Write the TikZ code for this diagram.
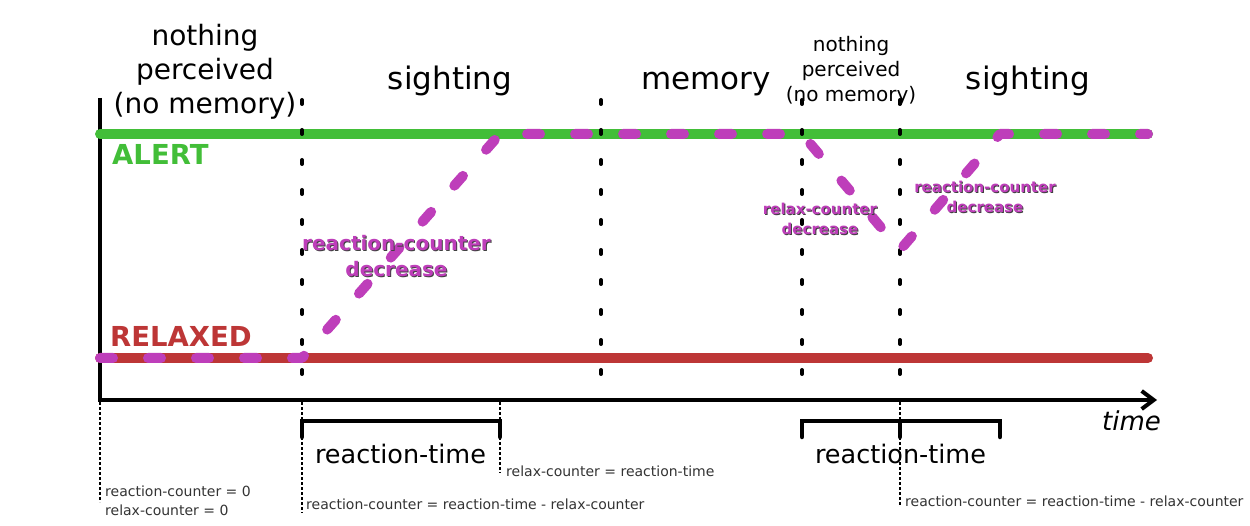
\documentclass[tikz,border=0pt]{standalone}
\usepackage{fontspec}
\setmainfont{DejaVu Sans}
\usetikzlibrary{arrows.meta, positioning}

\definecolor{alertgreen}{RGB}{66,190,56}
\definecolor{relaxred}{RGB}{189,54,54}
\definecolor{tracemag}{RGB}{190,62,186}

% magenta labels get a small dark shadow
\newcommand{\shadowed}[1]{\makebox[0pt][l]{\hspace*{1pt}\raisebox{-1pt}{\color{black!75}#1}}#1}

\begin{document}
\begin{tikzpicture}[x=1pt, y=-1pt,
    % line styles
    level/.style={line width=10pt, line cap=round},
    phase/.style={line width=4pt, line cap=round, dash pattern=on 4pt off 26pt},
    guide/.style={line width=1.5pt, dash pattern=on 2.5pt off 2.5pt},
    span/.style={line width=4.5pt, line cap=round, line join=miter},
    trace/.style={draw=tracemag, line width=10pt, line cap=round, line join=round, dash pattern=on 13pt off 35pt},
    axis/.style={line width=4pt, line join=miter, -{Straight Barb[length=12pt, width=18pt]}},
    % text styles (multi-line nodes sit on their last line)
    title/.style={inner sep=0pt, anchor=base, align=center},
    statelbl/.style={inner sep=0pt, anchor=base west, font=\bfseries\fontsize{27.5}{33}\selectfont},
    note/.style={inner sep=0pt, anchor=base, align=center, text=tracemag},
    memo/.style={inner sep=0pt, anchor=base west, align=left, text=black!80, font=\fontsize{14}{18.5}\selectfont}]

\useasboundingbox (0,0) rectangle (1250,526);

% Axes
\coordinate (o) at (100,400);
\coordinate (ytop) at (100,98);
\coordinate (xend) at (1157,400);
\draw[axis] (ytop) -- (o) -- (xend);

% State levels
\coordinate (alertL) at (100,134);
\coordinate (alertR) at (1148,134);
\coordinate (relaxL) at (100,358);
\coordinate (relaxR) at (1148,358);
\draw[level, alertgreen] (alertL) -- (alertR);
\draw[level, relaxred] (relaxL) -- (relaxR);

% Phase borders
\foreach \x/\n in {302/1, 601/2, 802/3, 900/4} {
    \coordinate (ph\n-top) at (\x,100);
    \coordinate (ph\n-bot) at (\x,374);
    \draw[phase] (ph\n-top) -- (ph\n-bot);
}

% State trace
\coordinate (s0) at (100,358);
\coordinate (s1) at (302,358);
\coordinate (s2) at (500,134);
\coordinate (s3) at (802,134);
\coordinate (s4) at (900,250);
\coordinate (s5) at (1000,134);
\coordinate (s6) at (1148,134);
\draw[trace] (s0) -- (s1) -- (s2) -- (s3) -- (s4) -- (s5) -- (s6);

% Reaction-time spans
\coordinate (r1a) at (302,437);
\coordinate (r1b) at (302,421);
\coordinate (r1c) at (500,421);
\coordinate (r1d) at (500,437);
\draw[span] (r1a) -- (r1b) -- (r1c) -- (r1d);
\coordinate (r2a) at (802,437);
\coordinate (r2b) at (802,421);
\coordinate (r2c) at (1000,421);
\coordinate (r2d) at (1000,437);
\coordinate (r2m) at (900,421);
\coordinate (r2n) at (900,437);
\draw[span] (r2a) -- (r2b) -- (r2c) -- (r2d);
\draw[span] (r2m) -- (r2n);

% Guides down to the counter notes
\coordinate (g0a) at (100,402);
\coordinate (g0b) at (100,502);
\coordinate (g1a) at (302,402);
\coordinate (g1b) at (302,513);
\coordinate (g2a) at (500,402);
\coordinate (g2b) at (500,473);
\coordinate (g3a) at (900,402);
\coordinate (g3b) at (900,505);
\draw[guide] (g0a) -- (g0b);
\draw[guide] (g1a) -- (g1b);
\draw[guide] (g2a) -- (g2b);
\draw[guide] (g3a) -- (g3b);

% Period titles
\node[title, font=\fontsize{28}{34}\selectfont] (idle1) at (205,114) {nothing\\perceived\\(no memory)};
\node[title, font=\fontsize{31}{37}\selectfont] (sight1) at (450,90) {sighting};
\node[title, font=\fontsize{31}{37}\selectfont] (memo) at (706,90) {memory};
\node[title, font=\fontsize{20}{25}\selectfont] (idle2) at (851,102) {nothing\\perceived\\(no memory)};
\node[title, font=\fontsize{31}{37}\selectfont] (sight2) at (1028,90) {sighting};

% State labels
\node[statelbl, text=alertgreen] (alertlbl) at (112,165) {ALERT};
\node[statelbl, text=relaxred] (relaxlbl) at (110,347) {RELAXED};

% Counter labels on the trace
\node[note, font=\bfseries\fontsize{20}{26}\selectfont] (rcdec1) at (396.5,277) {\shadowed{reaction-counter}\\\shadowed{decrease}};
\node[note, font=\bfseries\fontsize{15}{20}\selectfont] (xcdec) at (820,235) {\shadowed{relax-counter}\\\shadowed{decrease}};
\node[note, font=\bfseries\fontsize{15}{20}\selectfont] (rcdec2) at (985,213) {\shadowed{reaction-counter}\\\shadowed{decrease}};

% Span labels
\node[title, font=\fontsize{25.5}{30}\selectfont] (rt1) at (400.5,463) {reaction-time};
\node[title, font=\fontsize{25.5}{30}\selectfont] (rt2) at (900.5,463) {reaction-time};
\node[inner sep=0pt, anchor=base west, font=\itshape\fontsize{26}{30}\selectfont] (timelbl) at (1102,430) {time};

% Counter notes
\node[memo] (init) at (105,515) {reaction-counter = 0\\relax-counter = 0};
\node[memo] (set1) at (306,509) {reaction-counter = reaction-time - relax-counter};
\node[memo] (relax1) at (506,476) {relax-counter = reaction-time};
\node[memo] (set2) at (905,506) {reaction-counter = reaction-time - relax-counter};

\end{tikzpicture}
\end{document}
